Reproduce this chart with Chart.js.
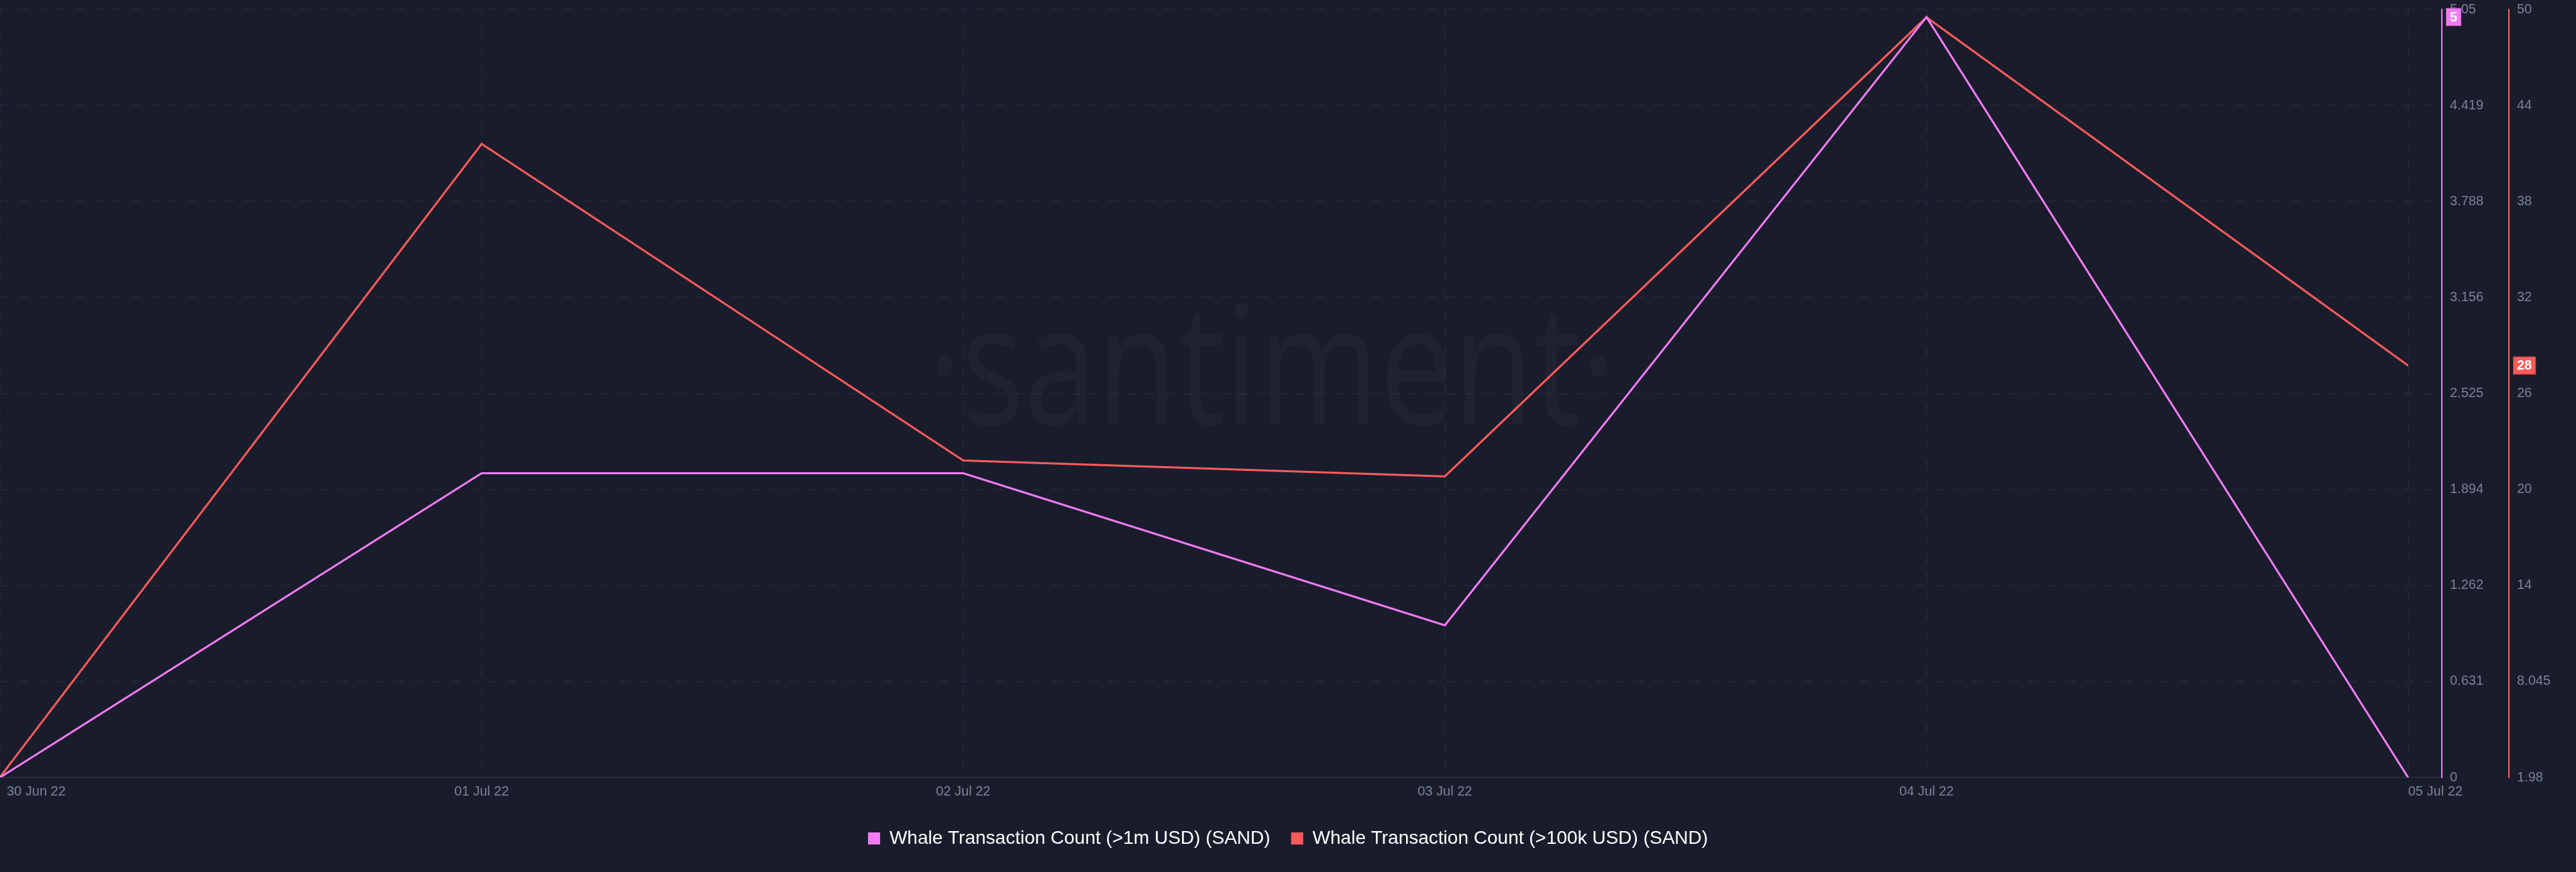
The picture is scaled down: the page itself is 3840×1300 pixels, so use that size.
<!DOCTYPE html>
<html>
<head>
<meta charset="utf-8">
<script src="https://cdn.jsdelivr.net/npm/chart.js@4/dist/chart.umd.min.js"></script>
<style>
html,body{margin:0;padding:0;background:#191c2b;}
#wrap{width:3840px;height:1300px;position:relative;}
</style>
</head>
<body>
<div id="wrap"><canvas id="c"></canvas></div>
<script>
// ---- data ----
const dates = ['30 Jun 22','01 Jul 22','02 Jul 22','03 Jul 22','04 Jul 22','05 Jul 22'];
const whaleOver1m = [0, 2, 2, 1, 5, 0];
const whaleOver100k = [2, 42, 22, 21, 50, 28];
const seriesNames = ['Whale Transaction Count (>1m USD) (SAND)', 'Whale Transaction Count (>100k USD) (SAND)'];
const pinkTickLabels = ['0','0.631','1.262','1.894','2.525','3.156','3.788','4.419','5.05'];
const redTickLabels = ['1.98','8.045','14','20','26','32','38','44','50'];
const pinkRange = [0, 5.05];
const redRange = [1.98, 50.5];
const badgeValues = [5, 28];

// ---- styles ----
const PINK = '#f27bf5', RED = '#ff5b5b', BG = '#191c2b', GRID = '#22263a', TICK = '#7a8399';
const FONT = '"Liberation Sans", Arial, sans-serif';
const xMax = dates.length - 1 + 0.07;

function evenTicks(range, n){
  return Array.from({length:n}, (_, i) => ({value: range[0] + i * (range[1] - range[0]) / (n - 1)}));
}

const bgPlugin = {
  id: 'bg',
  beforeDraw(chart){
    const c = chart.ctx; c.save(); c.fillStyle = BG; c.fillRect(0, 0, chart.width, chart.height); c.restore();
  }
};

const watermark = {
  id: 'wm',
  beforeDatasetsDraw(chart){
    const c = chart.ctx;
    c.save();
    c.font = '250px "Open Sans"';
    const t = '\u00B7santiment\u00B7';
    const m = c.measureText(t);
    const ink = m.actualBoundingBoxLeft + m.actualBoundingBoxRight;
    const sx = 998 / ink;
    c.translate(1396, 633);
    c.scale(sx, 1);
    c.fillStyle = 'rgba(255,255,255,0.026)';
    c.textAlign = 'left';
    c.textBaseline = 'alphabetic';
    c.fillText(t, m.actualBoundingBoxLeft, 0);
    c.restore();
  }
};

const xLabels = {
  id: 'xl',
  afterDraw(chart){
    const xs = chart.scales.x, c = chart.ctx, y = chart.chartArea.bottom + 21;
    c.save();
    c.font = '20px ' + FONT;
    c.fillStyle = TICK;
    c.textBaseline = 'middle';
    dates.forEach((d, i) => {
      const px = xs.getPixelForValue(i);
      if (i === 0) { c.textAlign = 'left'; c.fillText(d, px + 10, y); }
      else if (i === dates.length - 1) { c.textAlign = 'left'; c.fillText(d, px, y); }
      else { c.textAlign = 'center'; c.fillText(d, px, y); }
    });
    c.restore();
  }
};

const badges = {
  id: 'badges',
  afterDraw(chart){
    const c = chart.ctx;
    [['yPink', badgeValues[0], PINK], ['yRed', badgeValues[1], RED]].forEach(([id, v, col]) => {
      const s = chart.scales[id];
      const py = s.getPixelForValue(v);
      c.save();
      c.font = 'bold 20px ' + FONT;
      const txt = String(v);
      const w = c.measureText(txt).width + 12, h = 27, x = s.left + 6;
      c.fillStyle = col;
      c.fillRect(x, py - h / 2, w, h);
      c.strokeStyle = 'rgba(0,0,0,0.3)';
      c.lineWidth = 1;
      c.strokeRect(x + 0.5, py - h / 2 + 0.5, w - 1, h - 1);
      c.fillStyle = '#ffffff';
      c.textAlign = 'center';
      c.textBaseline = 'middle';
      c.fillText(txt, x + w / 2, py + 1);
      c.restore();
    });
  }
};

function fitY(s){ s.width = 100; s.paddingTop = 0; s.paddingBottom = 0; }

new Chart(document.getElementById('c'), {
  type: 'line',
  data: {
    datasets: [
      {label: seriesNames[0], data: whaleOver1m.map((v, i) => ({x: i, y: v})), yAxisID: 'yPink',
       borderColor: PINK, backgroundColor: PINK, borderWidth: 3, pointRadius: 0, tension: 0},
      {label: seriesNames[1], data: whaleOver100k.map((v, i) => ({x: i, y: v})), yAxisID: 'yRed',
       borderColor: RED, backgroundColor: RED, borderWidth: 3, pointRadius: 0, tension: 0}
    ]
  },
  options: {
    responsive: true, maintainAspectRatio: false, animation: false, devicePixelRatio: 1,
    layout: {padding: {top: 14, left: 0, right: 0, bottom: 26}},
    plugins: {
      legend: {
        position: 'bottom',
        labels: {
          boxWidth: 18, boxHeight: 18, padding: 31, color: '#ffffff',
          font: {family: FONT, size: 28},
          generateLabels(chart){
            return Chart.defaults.plugins.legend.labels.generateLabels(chart).map(l => ({...l, lineWidth: 0}));
          }
        }
      },
      tooltip: {enabled: false}
    },
    scales: {
      x: {
        type: 'linear', min: 0, max: xMax,
        afterBuildTicks(s){ s.ticks = dates.map((_, i) => ({value: i})); },
        ticks: {display: false},
        grid: {color: GRID, lineWidth: 2, drawTicks: false},
        border: {display: true, color: '#272b3c', width: 2, dash: [14, 14]},
        afterFit(s){ s.height = 46; s.paddingLeft = 0; s.paddingRight = 0; }
      },
      yPink: {
        type: 'linear', position: 'right', min: pinkRange[0], max: pinkRange[1],
        afterBuildTicks(s){ s.ticks = evenTicks(pinkRange, pinkTickLabels.length); },
        ticks: {callback: (v, i) => pinkTickLabels[i], color: TICK, font: {family: FONT, size: 20}, padding: 12, autoSkip: false},
        grid: {color: GRID, lineWidth: 2, drawTicks: false},
        border: {display: true, color: PINK, width: 2, dash: [14, 14]},
        afterFit: fitY
      },
      yRed: {
        type: 'linear', position: 'right', min: redRange[0], max: redRange[1],
        afterBuildTicks(s){ s.ticks = evenTicks(redRange, redTickLabels.length); },
        ticks: {callback: (v, i) => redTickLabels[i], color: TICK, font: {family: FONT, size: 20}, padding: 12, autoSkip: false},
        grid: {display: false, drawTicks: false},
        border: {display: true, color: RED, width: 2},
        afterFit: fitY
      }
    }
  },
  plugins: [bgPlugin, watermark, xLabels, badges]
});
</script>
</body>
</html>
